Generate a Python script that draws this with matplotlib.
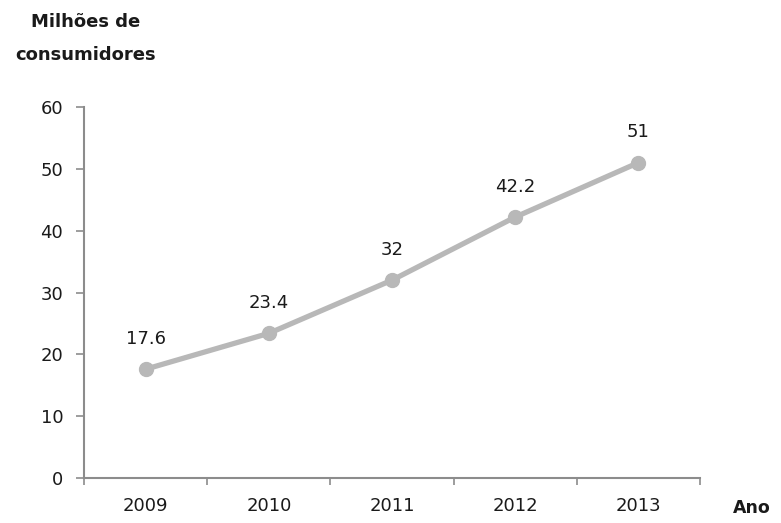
import matplotlib.pyplot as plt
from matplotlib.ticker import FixedLocator

anos = ["2009", "2010", "2011", "2012", "2013"]
consumidores = [17.6, 23.4, 32, 42.2, 51]
rotulos = ["17.6", "23.4", "32", "42.2", "51"]

fig = plt.figure(figsize=(7.81, 5.23), dpi=100)
ax = fig.add_axes([0.1076, 0.086, 0.7887, 0.7094])

x = list(range(len(anos)))
ax.plot(x, consumidores, color='#b8b8b8', linewidth=3.8,
        marker='o', markersize=10, markerfacecolor='#b8b8b8', markeredgecolor='#b8b8b8')

for xi, yi, txt in zip(x, consumidores, rotulos):
    ax.annotate(txt, (xi, yi), xytext=(0, 22), textcoords='offset points',
                ha='center', va='center', fontsize=13, color='#1a1a1a')

ax.set_xlim(-0.5, len(anos) - 0.5)
ax.set_ylim(0, 60)
ax.set_yticks(range(0, 61, 10))

# year labels centred on the categories, tick marks on the boundaries
ax.set_xticks(x)
ax.set_xticklabels(anos)
ax.xaxis.set_minor_locator(FixedLocator([i - 0.5 for i in range(len(anos) + 1)]))
ax.tick_params(axis='x', which='major', length=0, pad=14, labelsize=13, labelcolor='#1a1a1a')
ax.tick_params(axis='x', which='minor', length=5, width=1.2, color='#8c8c8c', direction='out')
ax.tick_params(axis='y', length=6, width=1.2, color='#8c8c8c', pad=9,
               labelsize=13, labelcolor='#1a1a1a')

for side in ['top', 'right']:
    ax.spines[side].set_visible(False)
for side in ['left', 'bottom']:
    ax.spines[side].set_color('#8c8c8c')
    ax.spines[side].set_linewidth(1.5)

fig.text(86 / 781, 1 - 22 / 523, "Milhões de", ha='center', va='center',
         fontsize=13, fontweight='bold', color='#1a1a1a')
fig.text(86 / 781, 1 - 55 / 523, "consumidores", ha='center', va='center',
         fontsize=13, fontweight='bold', color='#1a1a1a')
fig.text(752 / 781, 1 - 508 / 523, "Ano", ha='center', va='center',
         fontsize=12.5, fontweight='bold', color='#1a1a1a')

fig.savefig("out.png", dpi=100)
